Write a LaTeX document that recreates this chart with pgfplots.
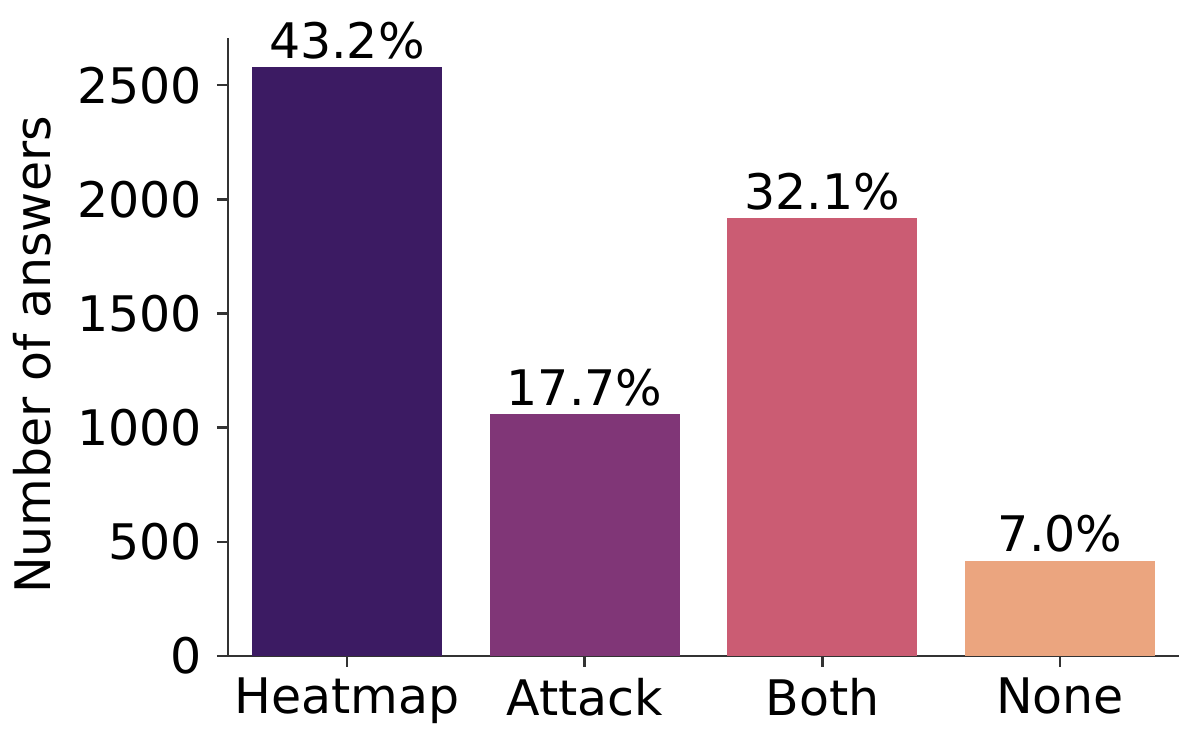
\documentclass[border=0pt]{standalone}
\usepackage{fontspec}
\setmainfont{DejaVu Sans}
\usepackage{pgfplots}
\pgfplotsset{compat=1.18}
\usetikzlibrary{calc}
\definecolor{c1}{RGB}{60,27,99}
\definecolor{c2}{RGB}{128,54,119}
\definecolor{c3}{RGB}{203,92,115}
\definecolor{c4}{RGB}{235,165,127}
\definecolor{spine}{RGB}{51,51,51}
\newcommand{\bigf}{\fontsize{24.5}{29}\selectfont}
\begin{document}
\begin{tikzpicture}
\begin{axis}[name=ax, scale only axis, width=475.5pt, height=309pt,
  xmin=-0.5, xmax=3.5, ymin=0, ymax=2707,
  clip=false,
  axis lines*=left,
  axis line style={spine, line width=1.25pt, -},
  ybar, bar width=0.8, bar shift=0pt,
  xtick={0,1,2,3}, xticklabels={Heatmap,Attack,Both,None},
  ytick={0,500,1000,1500,2000,2500},
  tick align=outside, major tick length=5.5pt,
  tick style={spine, line width=1.25pt},
  tick label style={font=\bigf},
  yticklabel style={xshift=-4pt},
  xticklabel style={yshift=-2pt},
  /pgf/number format/assume math mode=true,
  /pgf/number format/set thousands separator={},
  ylabel={Number of answers},
  every axis y label/.style={at={(rel axis cs:0,0.5)}, xshift=-88.5pt, yshift=-4pt, rotate=90, anchor=base, font=\bigf},
  nodes near coords, point meta=explicit symbolic,
  every node near coord/.style={anchor=base, inner sep=0pt, yshift=4.5pt, text=black, font=\bigf},
]
\addplot[fill=c1, draw=none] coordinates {(0,2578) [43.2\%]};
\addplot[fill=c2, draw=none] coordinates {(1,1058) [17.7\%]};
\addplot[fill=c3, draw=none] coordinates {(2,1917) [32.1\%]};
\addplot[fill=c4, draw=none] coordinates {(3,418) [7.0\%]};
\end{axis}
\path ($(ax.south west)+(-114pt,-45pt)$) rectangle ($(ax.north east)+(8.5pt,19pt)$);
\end{tikzpicture}
\end{document}
